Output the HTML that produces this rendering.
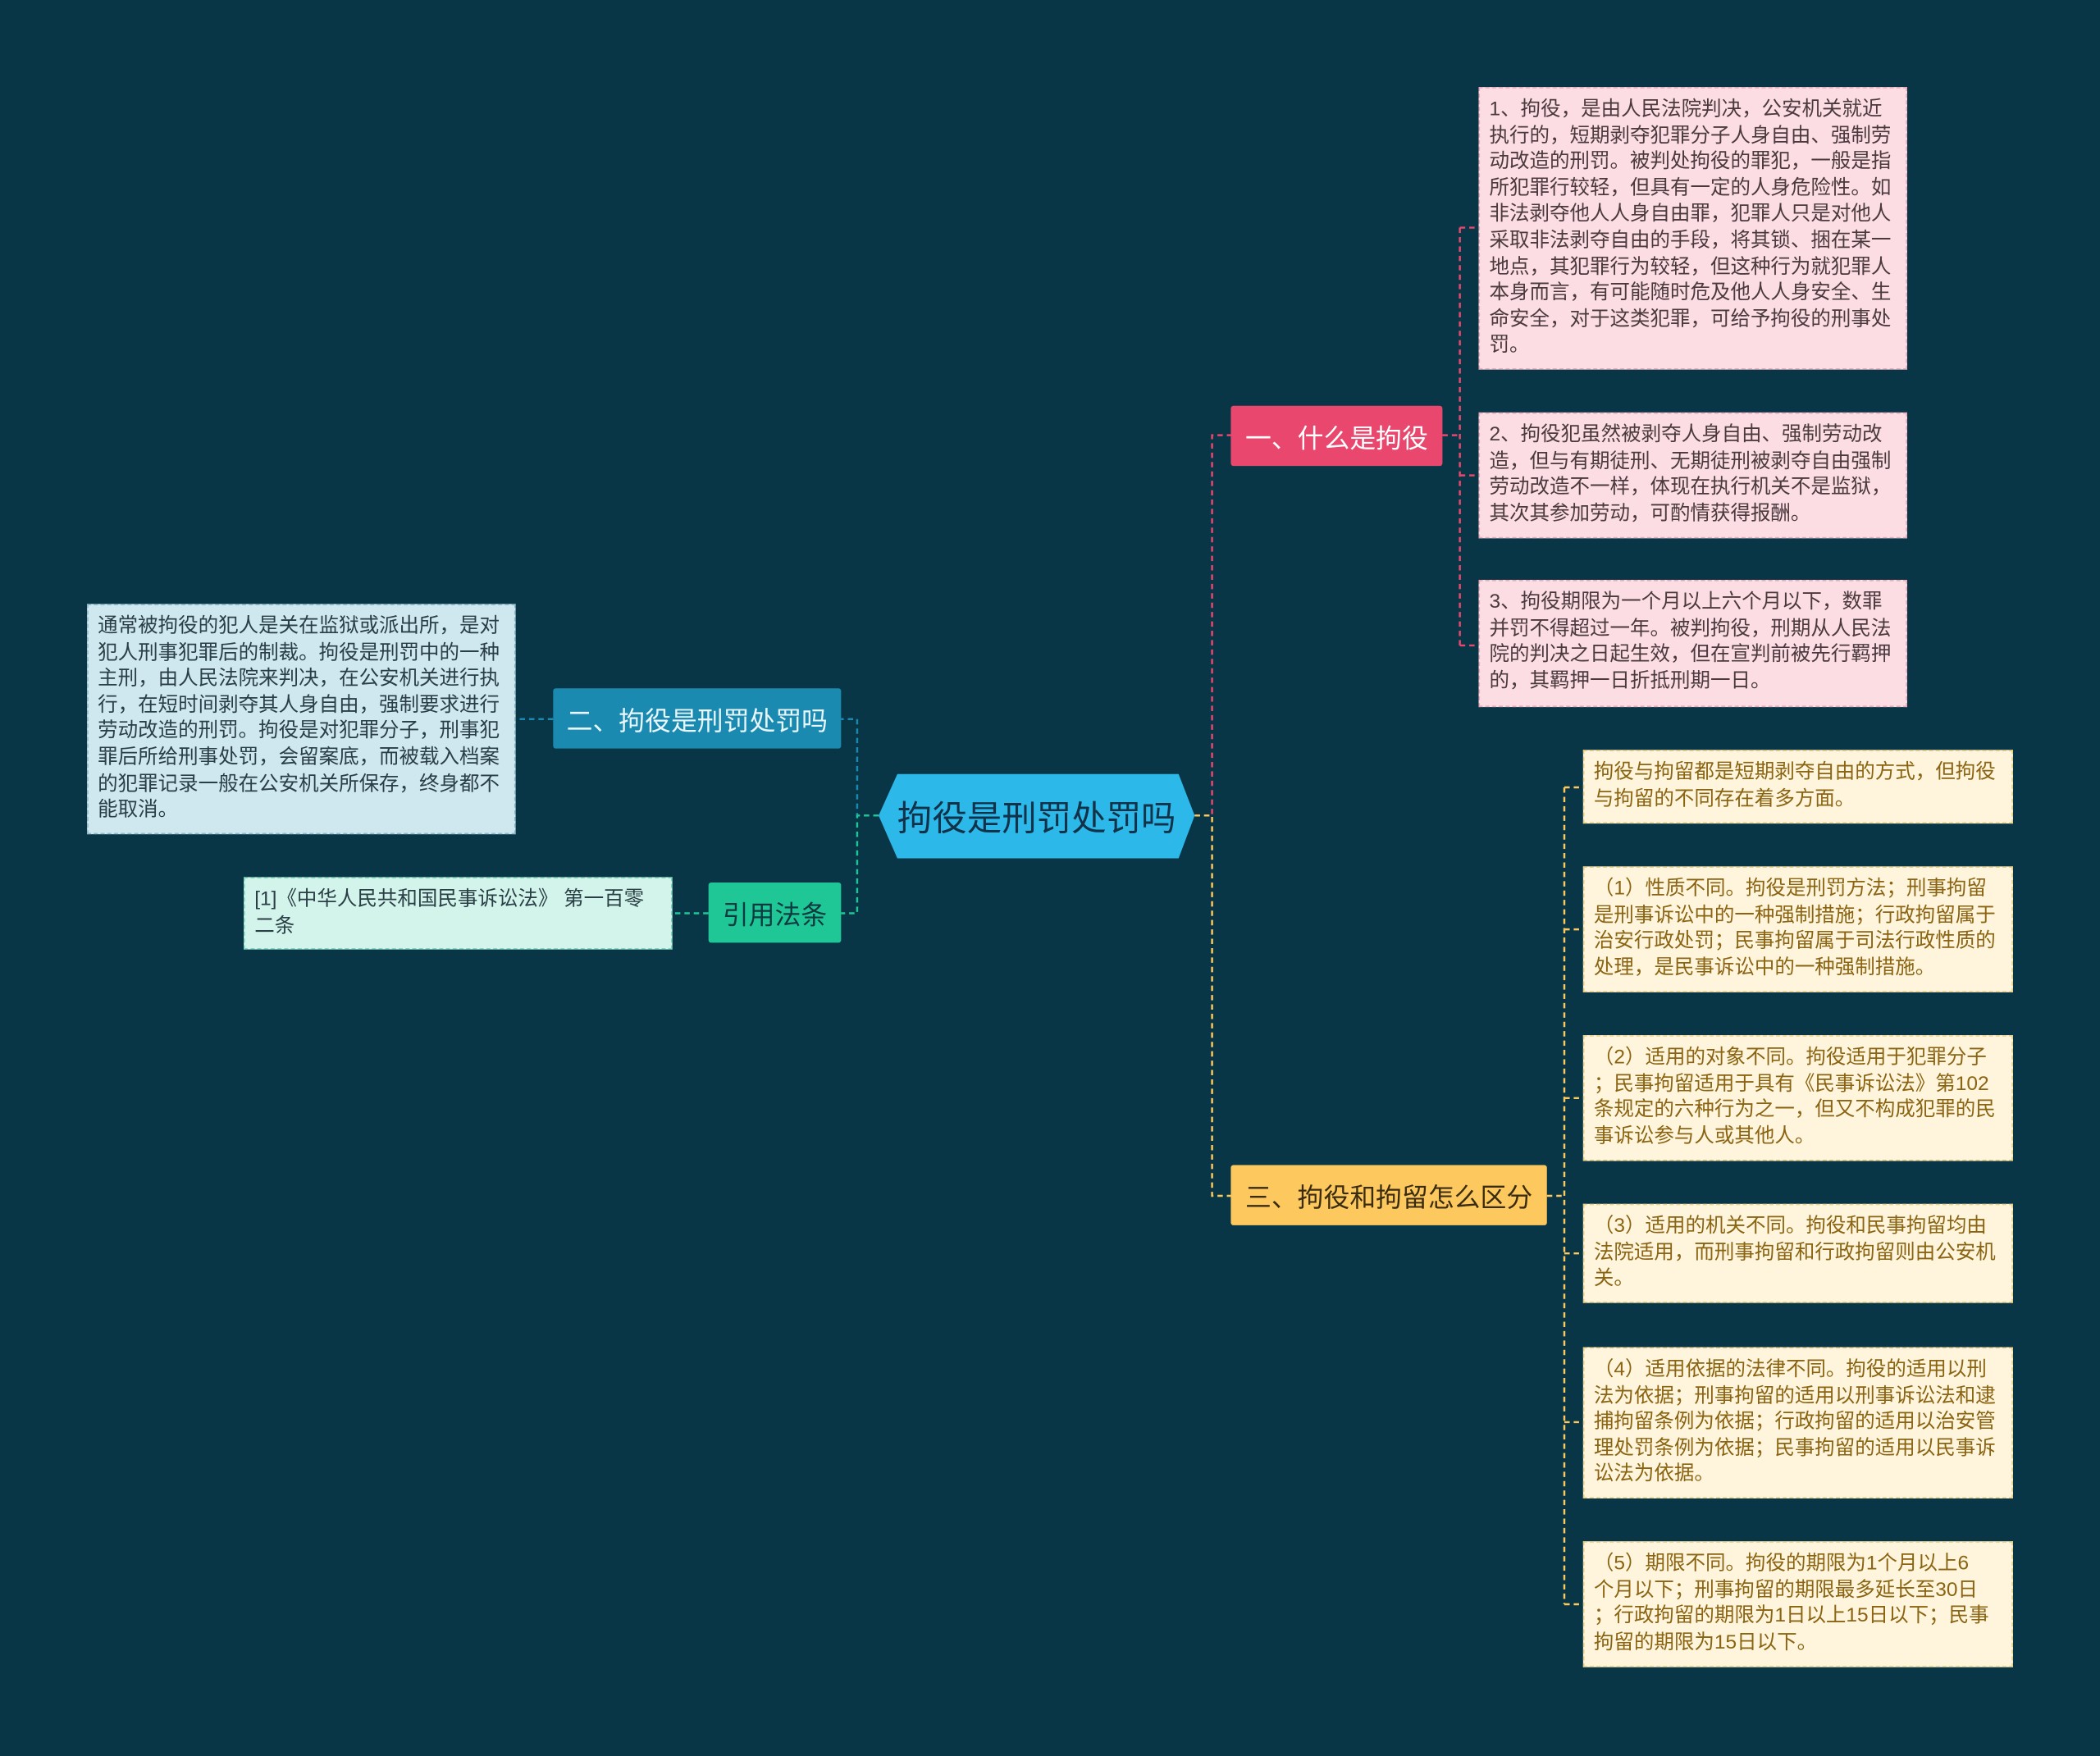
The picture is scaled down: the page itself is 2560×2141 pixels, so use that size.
<!DOCTYPE html>
<html><head><meta charset="utf-8">
<style>
html,body{margin:0;padding:0;background:#083646;width:2560px;height:2141px;overflow:hidden}
#w{position:absolute;left:0;top:0;width:1568px;height:1311px;transform:scale(1.6327);transform-origin:0 0;font-family:"Liberation Sans","Noto Sans CJK SC",sans-serif}
.n{position:absolute;display:flex;align-items:center;justify-content:center;font-size:19.5px;border-radius:2px}
.b{position:absolute;box-sizing:border-box;border:1px dashed;padding:6px 7px;font-size:15px;line-height:19.6px;white-space:nowrap;overflow:hidden}
.p{background:#fcdde3;border-color:#e8a9b8;color:#4a3a3e}
.y{background:#fff5dc;border-color:#e9cf86;color:#8a6412}
svg{position:absolute;left:0;top:0}
</style></head><body><div id="w">
<svg width="1568" height="1311" fill="none" stroke-width="1.5" stroke-dasharray="4 3">
<path d="M892 609 H905 V325 H919" stroke="#e9476d"/>
<path d="M1077 325 H1090 M1090 170 V482 M1090 170 H1104 M1090 355 H1104 M1090 482 H1104" stroke="#e9476d"/>
<path d="M892 609 H905 V893 H919" stroke="#fdc95f"/>
<path d="M1155 893 H1168 M1168 588 V1198 M1168 588 H1182 M1168 694 H1182 M1168 820 H1182 M1168 936 H1182 M1168 1062 H1182 M1168 1198 H1182" stroke="#fdc95f"/>
<path d="M656 609 H640 V537 H628" stroke="#1a8ab0"/>
<path d="M413 537 H385" stroke="#1a8ab0"/>
<path d="M656 609 H640 V682 H628" stroke="#1fc796"/>
<path d="M529 682 H502" stroke="#1fc796"/>
<polygon points="670,578 880,578 892,609 880,641 670,641 656,609" fill="#2cb9ea" stroke="none"/>
</svg>
<div class="n" style="left:656px;top:578px;width:236px;height:63px;font-size:26px;color:#12324a">拘役是刑罚处罚吗</div>
<div class="n" style="left:919px;top:303px;width:158px;height:45px;background:#e9476d;color:#fff">一、什么是拘役</div>
<div class="n" style="left:413px;top:514px;width:215px;height:45px;background:#1a8ab0;color:#e8f6fb">二、拘役是刑罚处罚吗</div>
<div class="n" style="left:529px;top:659px;width:99px;height:45px;background:#1fc796;color:#0e3a40">引用法条</div>
<div class="n" style="left:919px;top:870px;width:236px;height:45px;background:#fdc95f;color:#3a2c10">三、拘役和拘留怎么区分</div>

<div class="b p" style="left:1104px;top:65px;width:320px;height:211px">1、拘役，是由人民法院判决，公安机关就近<br>执行的，短期剥夺犯罪分子人身自由、强制劳<br>动改造的刑罚。被判处拘役的罪犯，一般是指<br>所犯罪行较轻，但具有一定的人身危险性。如<br>非法剥夺他人人身自由罪，犯罪人只是对他人<br>采取非法剥夺自由的手段，将其锁、捆在某一<br>地点，其犯罪行为较轻，但这种行为就犯罪人<br>本身而言，有可能随时危及他人人身安全、生<br>命安全，对于这类犯罪，可给予拘役的刑事处<br>罚。</div>
<div class="b p" style="left:1104px;top:308px;width:320px;height:94px">2、拘役犯虽然被剥夺人身自由、强制劳动改<br>造，但与有期徒刑、无期徒刑被剥夺自由强制<br>劳动改造不一样，体现在执行机关不是监狱，<br>其次其参加劳动，可酌情获得报酬。</div>
<div class="b p" style="left:1104px;top:433px;width:320px;height:95px">3、拘役期限为一个月以上六个月以下，数罪<br>并罚不得超过一年。被判拘役，刑期从人民法<br>院的判决之日起生效，但在宣判前被先行羁押<br>的，其羁押一日折抵刑期一日。</div>

<div class="b" style="left:65px;top:451px;width:320px;height:172px;background:#cfe7ee;border-color:#8fbccc;color:#2a3e46">通常被拘役的犯人是关在监狱或派出所，是对<br>犯人刑事犯罪后的制裁。拘役是刑罚中的一种<br>主刑，由人民法院来判决，在公安机关进行执<br>行，在短时间剥夺其人身自由，强制要求进行<br>劳动改造的刑罚。拘役是对犯罪分子，刑事犯<br>罪后所给刑事处罚，会留案底，而被载入档案<br>的犯罪记录一般在公安机关所保存，终身都不<br>能取消。</div>
<div class="b" style="left:182px;top:655px;width:320px;height:54px;background:#d3f4ea;border-color:#7fd8bc;color:#2a3e46">[1]《中华人民共和国民事诉讼法》 第一百零<br>二条</div>

<div class="b y" style="left:1182px;top:560px;width:321px;height:55px">拘役与拘留都是短期剥夺自由的方式，但拘役<br>与拘留的不同存在着多方面。</div>
<div class="b y" style="left:1182px;top:647px;width:321px;height:94px">（1）性质不同。拘役是刑罚方法；刑事拘留<br>是刑事诉讼中的一种强制措施；行政拘留属于<br>治安行政处罚；民事拘留属于司法行政性质的<br>处理，是民事诉讼中的一种强制措施。</div>
<div class="b y" style="left:1182px;top:773px;width:321px;height:94px">（2）适用的对象不同。拘役适用于犯罪分子<br>；民事拘留适用于具有《民事诉讼法》第102<br>条规定的六种行为之一，但又不构成犯罪的民<br>事诉讼参与人或其他人。</div>
<div class="b y" style="left:1182px;top:899px;width:321px;height:74px">（3）适用的机关不同。拘役和民事拘留均由<br>法院适用，而刑事拘留和行政拘留则由公安机<br>关。</div>
<div class="b y" style="left:1182px;top:1006px;width:321px;height:113px">（4）适用依据的法律不同。拘役的适用以刑<br>法为依据；刑事拘留的适用以刑事诉讼法和逮<br>捕拘留条例为依据；行政拘留的适用以治安管<br>理处罚条例为依据；民事拘留的适用以民事诉<br>讼法为依据。</div>
<div class="b y" style="left:1182px;top:1151px;width:321px;height:94px">（5）期限不同。拘役的期限为1个月以上6<br>个月以下；刑事拘留的期限最多延长至30日<br>；行政拘留的期限为1日以上15日以下；民事<br>拘留的期限为15日以下。</div>
</div></body></html>
